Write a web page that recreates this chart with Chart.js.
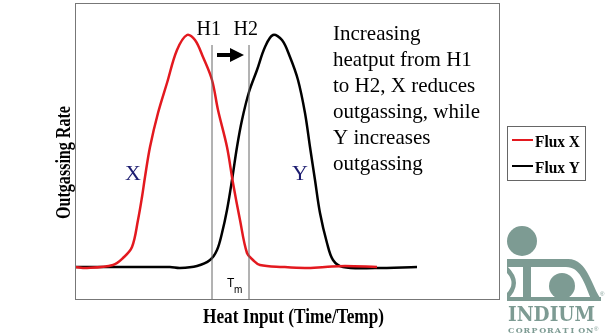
<!DOCTYPE html>
<html>
<head>
<meta charset="utf-8">
<script src="https://cdn.jsdelivr.net/npm/chart.js@4"></script>
<style>
  body { margin: 0; background: #fff; }
  canvas { display: block; }
</style>
</head>
<body>
<canvas id="chart" width="607" height="336"></canvas>
<script>
// heat input (arbitrary units) and outgassing rate
const heatX = [0, 12, 38, 48, 57, 63, 67, 70, 75, 83, 92, 102, 112, 120, 128, 137, 143, 152, 158, 165, 172, 178, 185, 208, 230, 250, 270, 302];
const rateX = [33, 32, 35, 42, 53, 80, 103, 123, 153, 187, 217, 250, 265, 260, 243, 220, 190, 153, 117, 80, 47, 40, 35, 33, 32, 33, 34, 33];

const heatY = [0, 50, 95, 105, 122, 135, 142, 147, 152, 157, 162, 167, 174, 182, 190, 198, 207, 215, 223, 230, 235, 240, 245, 252, 258, 268, 300, 342];
const rateY = [33, 33, 33, 32, 34, 40, 50, 67, 90, 120, 153, 180, 208, 230, 253, 265, 260, 243, 220, 187, 153, 120, 87, 57, 40, 33, 32, 33];

// H1 / H2 markers
const markerHeat = [137, 174];
const markerLabels = ['H1', 'H2'];
const markerTop = 255;

const seriesNames = ['Flux X', 'Flux Y'];
const seriesColors = ['#e3191f', '#000000'];

const noteLines = ['Increasing', 'heatput from H1', 'to H2, X reduces', 'outgassing, while', 'Y increases', 'outgassing'];

const toPoints = (xs, ys) => xs.map((x, i) => ({ x: x, y: ys[i] }));

const datasets = [
    { label: seriesNames[0], data: toPoints(heatX, rateX), borderColor: seriesColors[0], borderWidth: 2.5, tension: 0.35 },
    { label: seriesNames[1], data: toPoints(heatY, rateY), borderColor: seriesColors[1], borderWidth: 2.5, tension: 0.35 }
];
markerHeat.forEach(h => {
    datasets.unshift({ label: '', data: [{ x: h, y: 0 }, { x: h, y: markerTop }], borderColor: '#666', borderWidth: 1, tension: 0 });
});

// squeeze text horizontally to a given width
function fitText(ctx, text, x, y, width) {
    const w = ctx.measureText(text).width;
    ctx.save();
    ctx.translate(x, y);
    ctx.scale(width / w, 1);
    ctx.fillText(text, 0, 0);
    ctx.restore();
}

const decor = {
    id: 'decor',
    afterDraw(chart) {
        const ctx = chart.ctx;
        const a = chart.chartArea;
        const xs = chart.scales.x;
        ctx.save();

        // plot frame
        ctx.strokeStyle = '#777';
        ctx.lineWidth = 1;
        ctx.strokeRect(a.left + 0.5, a.top + 0.5, a.right - a.left - 1, a.bottom - a.top - 1);

        // axis titles
        ctx.fillStyle = '#000';
        ctx.font = 'bold 21px "Liberation Serif"';
        ctx.textBaseline = 'middle';
        ctx.textAlign = 'left';
        ctx.save();
        ctx.translate(65, 163);
        ctx.rotate(-Math.PI / 2);
        fitText(ctx, 'Outgassing Rate', -56, 0, 113);
        ctx.restore();
        fitText(ctx, 'Heat Input (Time/Temp)', 203, 318, 181);

        // H1 / H2 labels and arrow
        ctx.textBaseline = 'alphabetic';
        ctx.font = '20px "Liberation Serif"';
        markerHeat.forEach((h, i) => {
            ctx.textAlign = 'right';
            ctx.fillText(markerLabels[i], xs.getPixelForValue(h) + 9, 35);
        });
        ctx.textAlign = 'left';
        ctx.fillRect(217, 53, 15, 4);
        ctx.beginPath();
        ctx.moveTo(230, 48);
        ctx.lineTo(244, 55);
        ctx.lineTo(230, 62);
        ctx.closePath();
        ctx.fill();

        // note text
        ctx.font = '21px "Liberation Serif"';
        noteLines.forEach((t, i) => ctx.fillText(t, 333, 40 + i * 26));

        // series labels
        ctx.fillStyle = '#1c1c70';
        ctx.font = '22px "Liberation Serif"';
        ctx.textAlign = 'center';
        ctx.textBaseline = 'middle';
        ctx.fillText('X', 133, 174);
        ctx.fillText('Y', 300, 174);

        // Tm
        ctx.fillStyle = '#000';
        ctx.textAlign = 'left';
        ctx.textBaseline = 'alphabetic';
        ctx.font = '12px "Liberation Sans"';
        ctx.fillText('T', 227, 287);
        ctx.font = '10px "Liberation Sans"';
        ctx.fillText('m', 234, 293);

        // legend
        ctx.strokeStyle = '#666';
        ctx.strokeRect(507.5, 126.5, 78, 54);
        ctx.font = 'bold 17px "Liberation Serif"';
        seriesNames.forEach((n, i) => {
            const y = 140 + i * 26;
            ctx.strokeStyle = seriesColors[i];
            ctx.lineWidth = 2;
            ctx.beginPath();
            ctx.moveTo(512, y);
            ctx.lineTo(533, y);
            ctx.stroke();
            ctx.fillStyle = '#000';
            fitText(ctx, n, 535, y + 7, 45);
        });

        // logo
        const g = '#7d9b93';
        ctx.fillStyle = g;
        ctx.beginPath();
        ctx.arc(522, 241, 15, 0, Math.PI * 2);
        ctx.fill();
        ctx.beginPath();
        ctx.arc(562, 286, 13, 0, Math.PI * 2);
        ctx.fill();
        ctx.beginPath();
        ctx.moveTo(507, 259);
        ctx.lineTo(568, 259);
        ctx.bezierCurveTo(588, 259, 592, 288, 601, 299);
        ctx.lineTo(591, 299);
        ctx.bezierCurveTo(584, 282, 580, 267, 566, 267);
        ctx.lineTo(507, 267);
        ctx.closePath();
        ctx.fill();
        ctx.fillRect(523, 266, 8, 33);
        ctx.beginPath();
        ctx.moveTo(507, 266);
        ctx.quadraticCurveTo(525, 283, 507, 300);
        ctx.lineTo(507, 293);
        ctx.quadraticCurveTo(516, 283, 507, 273);
        ctx.closePath();
        ctx.fill();
        ctx.fillRect(507, 297, 94, 4);
        ctx.font = 'bold 21px "DejaVu Serif"';
        fitText(ctx, 'INDIUM', 508, 321, 87);
        ctx.font = 'bold 8px "DejaVu Serif"';
        const corp = 'CORPORATION';
        for (let i = 0; i < corp.length; i++) ctx.fillText(corp[i], 508 + i * 7.8, 333);
        ctx.font = '6px "Liberation Sans"';
        ctx.fillText('®', 594, 331);
        ctx.fillText('®', 600, 296);

        ctx.restore();
    }
};

new Chart(document.getElementById('chart'), {
    type: 'line',
    data: { datasets: datasets },
    options: {
        responsive: false,
        animation: false,
        devicePixelRatio: 1,
        layout: { padding: { left: 75, top: 3, right: 107, bottom: 36 } },
        elements: { point: { radius: 0 } },
        scales: {
            x: { type: 'linear', min: 0, max: 425, display: false },
            y: { min: 0, max: 297, display: false }
        },
        plugins: { legend: { display: false }, tooltip: { enabled: false } }
    },
    plugins: [decor]
});
</script>
</body>
</html>
